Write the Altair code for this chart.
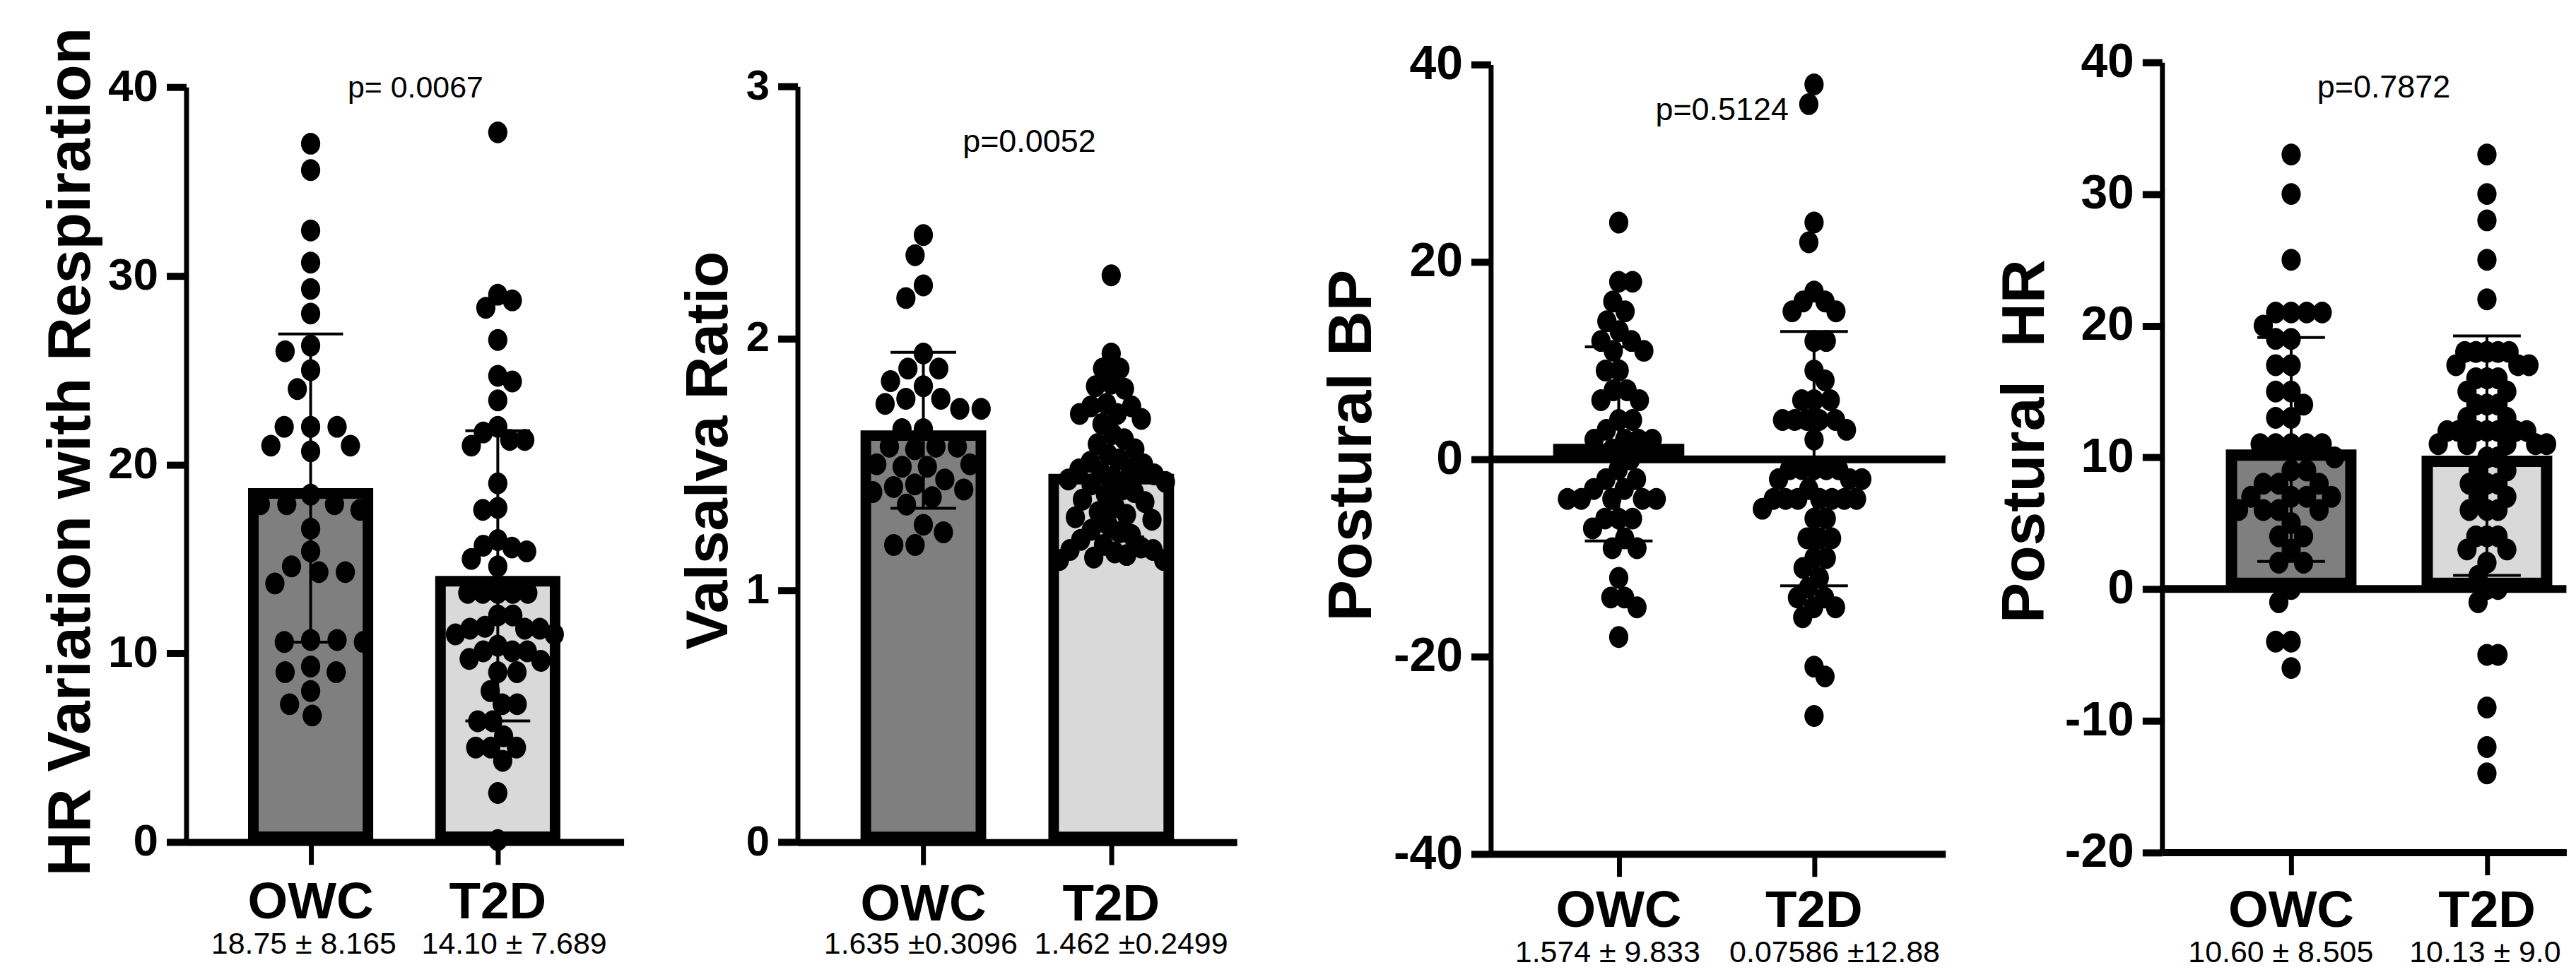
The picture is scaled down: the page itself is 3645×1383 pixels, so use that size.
import math
import altair as alt
import pandas as pd

GROUPS = ["OWC", "T2D"]

# ---------------- data ----------------
# Panel 1: HR variation with respiration
hrv_title = "HR Variation with Respiration"
hrv_owc = [37, 35.6, 32.4, 30.7, 29.3, 28.0, 26.3, 26.0, 25.0, 24.0, 22, 22, 22, 21, 21, 20.7,
           18.4, 17.9, 17.9, 17.9, 17.6, 16.6, 15.4, 14.6, 14.3, 14.3, 13.7, 10.7, 10.7, 10.6,
           10.6, 9.3, 9.0, 9.0, 8.0, 7.3, 6.7]
hrv_t2d = [37.6, 29.0, 28.7, 28.3, 26.6, 24.7, 24.4, 23.4, 22.0, 21.7, 21.3, 21.3, 21.0, 19.0,
           17.7, 17.6, 16.0, 15.7, 15.6, 15.4, 15.0, 14.6, 13.2, 13.2, 13.2, 13.2, 13.2, 12.0,
           12.0, 11.4, 11.3, 11.3, 11.3, 11.0, 11.0, 10.4, 10.1, 10.1, 10.1, 9.7, 9.6, 9.0, 9.0,
           8.0, 7.3, 7.3, 6.4, 6.4, 5.6, 5.0, 5.0, 5.0, 4.3, 2.6, 0.1]
hrv_mean = [18.75, 14.10]
hrv_sd = [8.165, 7.689]
hrv_stats = ["18.75 \u00b1 8.165", "14.10 \u00b1 7.689"]
hrv_p = "p= 0.0067"
hrv_domain = [0, 40]
hrv_ticks = [0, 10, 20, 30, 40]

# Panel 2: Valsalva ratio
val_title = "Valsalva Ratio"
val_owc = [2.41, 2.33, 2.21, 2.16, 1.94, 1.88, 1.88, 1.83, 1.81, 1.76, 1.76, 1.74, 1.72, 1.72,
           1.64, 1.64, 1.57, 1.57, 1.57, 1.56, 1.50, 1.50, 1.49, 1.49, 1.44, 1.42, 1.41, 1.40,
           1.39, 1.37, 1.34, 1.26, 1.23, 1.18, 1.18]
val_t2d = [2.25, 1.94, 1.88, 1.88, 1.82, 1.81, 1.80, 1.74, 1.73, 1.73, 1.70, 1.70, 1.68, 1.66,
           1.62, 1.60, 1.58, 1.56, 1.54, 1.52, 1.51, 1.50, 1.48, 1.48, 1.47, 1.46, 1.45, 1.44,
           1.43, 1.42, 1.40, 1.39, 1.38, 1.36, 1.35, 1.33, 1.31, 1.30, 1.29, 1.28, 1.26, 1.24,
           1.23, 1.22, 1.20, 1.18, 1.17, 1.16, 1.16, 1.15, 1.14, 1.13, 1.12, 1.12]
val_mean = [1.635, 1.462]
val_sd = [0.3096, 0.2499]
val_stats = ["1.635 \u00b10.3096", "1.462 \u00b10.2499"]
val_p = "p=0.0052"
val_domain = [0, 3]
val_ticks = [0, 1, 2, 3]

# Panel 3: Postural BP
bp_title = "Postural BP"
bp_owc = [24, 18, 18, 16, 15, 14, 13, 12, 12, 11, 11, 9, 9, 7, 7, 6, 6, 4, 4, 3, 2, 2, 2, 2, 1,
          0, -1, -2, -2, -3, -3, -4, -4, -4, -4, -4, -6, -6, -6, -7, -8, -9, -9, -12, -14, -14,
          -15, -18]
bp_t2d = [38, 36, 24, 22, 17, 16, 16, 15, 15, 12, 12, 9, 8, 6, 6, 6, 4, 4, 4, 4, 4, 3, 2, -1,
          -1, -1, -1, -1, -2, -2, -2, -3, -4, -4, -4, -4, -4, -4, -4, -5, -6, -6, -8, -8, -8,
          -10, -10, -11, -12, -13, -14, -14, -15, -15, -16, -21, -22, -26]
bp_mean = [1.574, 0.07586]
bp_sd = [9.833, 12.88]
bp_stats = ["1.574 \u00b1 9.833", "0.07586 \u00b112.88"]
bp_p = "p=0.5124"
bp_domain = [-40, 40]
bp_ticks = [-40, -20, 0, 20, 40]

# Panel 4: Postural HR
phr_title = "Postural\u00a0 HR"
phr_owc = [33, 30, 25, 21, 21, 21, 21, 20, 19, 19, 17, 17, 15, 15, 14, 13, 13, 11, 11, 11, 11,
           11, 10, 9, 9, 8, 8, 8, 7, 7, 7, 7, 6, 6, 6, 6, 5, 4, 4, 3, 2, 2, 0, -1, -4, -4, -6]
phr_t2d = [33, 30, 28, 25, 22, 18, 18, 18, 18, 18, 17, 17, 17, 16, 16, 16, 15, 15, 14, 14, 14,
           13, 13, 12, 12, 12, 12, 12, 12, 12, 11, 11, 11, 11, 11, 10, 10, 9, 9, 8, 8, 8, 7, 7,
           6, 6, 6, 4, 4, 4, 3, 3, 2, 1, 0, 0, -1, -5, -5, -9, -12, -14]
phr_mean = [10.60, 10.13]
phr_sd = [8.505, 9.093]
phr_stats = ["10.60 \u00b1 8.505", "10.13 \u00b1 9.093"]
phr_p = "p=0.7872"
phr_domain = [-20, 40]
phr_ticks = [-20, -10, 0, 10, 20, 30, 40]

# ---------------- styling ----------------
FONT = "Liberation Sans"
VIEW_H = 1124
POINT_W = 27.3
POINT_H = 31.0
E = POINT_H / POINT_W
ELLIPSE = f"M0,{-E:.4f}A1,{E:.4f},0,1,1,0,{E:.4f}A1,{E:.4f},0,1,1,0,{-E:.4f}Z"


def swarm(vals, ypx, sx, sy=POINT_H):
    """Deterministic beeswarm: returns horizontal pixel offsets."""
    order = sorted(range(len(vals)), key=lambda i: -vals[i])
    placed = []
    offs = [0.0] * len(vals)
    for n, i in enumerate(order):
        y = vals[i] * ypx
        cands = [0.0]
        for px, py in placed:
            dy = abs(py - y)
            if dy < sy:
                dx = sx * math.sqrt(1 - (dy / sy) ** 2)
                cands += [px - dx, px + dx]
        side = 1 if n % 2 else -1
        cands.sort(key=lambda c: (round(abs(c), 6), side * c))
        chosen = None
        for c in cands:
            if all(((c - px) / sx) ** 2 + ((y - py) / sy) ** 2 >= 1 - 1e-9 for px, py in placed):
                chosen = c
                break
        if chosen is None:
            chosen = max(abs(c) for c in cands) + sx
        offs[i] = chosen
        placed.append((chosen, y))
    return offs


def build(title, owc, t2d, mean, sd, stats, ptext, ydom, yticks, st, anchor=False):
    step, c0, pw = st["step"], st["c0"], st["plot_w"]
    r0, r1 = st["yrange"]
    ypx = (r0 - r1) / (ydom[1] - ydom[0])
    xs = alt.Scale(domain=[-c0 / step, (pw - c0) / step], range=[0, pw], nice=False, zero=False)
    ys = alt.Scale(domain=ydom, range=[r0, r1], nice=False, zero=False)
    xaxis = alt.Axis(values=[0, 1], labels=False, title=None, grid=False, domainColor="black",
                     domainWidth=10, tickColor="black", tickWidth=7, tickSize=32,
                     offset=st["xoff"])
    yaxis = alt.Axis(values=yticks, title=title, grid=False, domainColor="black", domainWidth=7,
                     tickColor="black", tickWidth=10, tickSize=28, labelPadding=12,
                     labelFont=FONT, labelFontWeight="bold", labelFontSize=st["lfs"],
                     labelColor="black", labelExpr="'' + datum.value", labelOverlap=False,
                     titleFont=FONT, titleFontWeight="bold", titleFontSize=st["tfs"],
                     titleColor="black", titleAngle=270, titleAlign="center",
                     titleBaseline="alphabetic", titleX=st["tx"], titleY=st["ty"])

    def X():
        return alt.X("x:Q", scale=xs, axis=xaxis)

    def Y():
        return alt.Y("y:Q", scale=ys, axis=yaxis)

    rows = []
    for g, vals in enumerate([owc, t2d]):
        offs = swarm(vals, ypx, st["swarm"][g])
        for v, o in zip(vals, offs):
            rows.append({"x": g + o / step, "y": v})
    pts = pd.DataFrame(rows)

    so = st["sw"] / 2
    half = (st["bar_outer"] / 2 - so) / step
    bars = pd.DataFrame({"x": [g - half for g in (0, 1)], "x2": [g + half for g in (0, 1)],
                         "y": mean, "y2": [0, 0], "fill": st["fills"]})
    err = pd.DataFrame({"x": [0, 1], "y": [mean[g] - sd[g] for g in (0, 1)],
                        "y2": [mean[g] + sd[g] for g in (0, 1)]})
    ch = st["cap"] / step
    caps = pd.DataFrame({"x": [g - ch for g in (0, 0, 1, 1)], "x2": [g + ch for g in (0, 0, 1, 1)],
                         "y": [mean[0] - sd[0], mean[0] + sd[0], mean[1] - sd[1], mean[1] + sd[1]]})

    layers = []
    rect_kw = dict(yOffset=so, y2Offset=-so) if so else {}
    layers.append(alt.Chart(bars).mark_rect(strokeWidth=0, **rect_kw).encode(
        x=X(), x2="x2:Q", y=Y(), y2="y2:Q", fill=alt.Fill("fill:N", scale=None)))
    if st["zero"]:
        layers.append(alt.Chart(pd.DataFrame({"y": [0]})).mark_rule(
            color="black", strokeWidth=11).encode(x=alt.value(0), x2=alt.value(pw), y=Y()))
    layers.append(alt.Chart(pts).mark_point(shape=ELLIPSE, size=POINT_W ** 2, filled=True,
                                            color="black", opacity=1, strokeWidth=0).encode(
        x=X(), y=Y()))
    if st["sw"]:
        layers.append(alt.Chart(bars).mark_rect(fill="white", fillOpacity=0, stroke="black",
                                                strokeWidth=st["sw"], **rect_kw).encode(
            x=X(), x2="x2:Q", y=Y(), y2="y2:Q"))
    layers.append(alt.Chart(err).mark_rule(color="black", strokeWidth=4).encode(
        x=X(), y=Y(), y2="y2:Q"))
    layers.append(alt.Chart(caps).mark_rule(color="black", strokeWidth=4).encode(
        x=X(), x2="x2:Q", y=Y()))

    ptxt = pd.DataFrame({"x": [0.5 + st["pdx"] / step], "text": [ptext]})
    layers.append(alt.Chart(ptxt).mark_text(font=FONT, fontSize=st["pfs"], align="center",
                                            baseline="alphabetic", color="black").encode(
        x=X(), y=alt.value(st["py"]), text="text:N"))
    cat = pd.DataFrame({"x": [0, 1], "text": GROUPS})
    layers.append(alt.Chart(cat).mark_text(font=FONT, fontSize=73, fontWeight="bold",
                                           align="center", baseline="alphabetic",
                                           color="black").encode(
        x=X(), y=alt.value(st["cy"]), text="text:N"))
    for g in (0, 1):
        sdf = pd.DataFrame({"x": [g + st["sdx"][g] / step], "text": [stats[g]]})
        kw = dict(limit=st["limit"], ellipsis="\u200b") if (g == 1 and "limit" in st) else {}
        layers.append(alt.Chart(sdf).mark_text(font=FONT, fontSize=43, align="left",
                                               baseline="alphabetic", color="black",
                                               **kw).encode(
            x=X(), y=alt.value(st["sy"]), text="text:N"))
    if anchor:
        layers.append(alt.Chart(pd.DataFrame({"a": [0]})).mark_rule(
            color="black", strokeOpacity=0).encode(
            x=alt.value(-255.5), x2=alt.value(-254.5), y=alt.value(-78), y2=alt.value(-77)))
    return alt.layer(*layers).properties(width=st["view_w"], height=VIEW_H)


S1 = dict(step=265.4, c0=176.5, plot_w=620.5, view_w=866.1, yrange=[1107, 36], xoff=-17,
          lfs=64, tfs=86, tx=-137.5, ty=553, bar_outer=177.5, sw=15,
          fills=["#7f7f7f", "#d9d9d9"], cap=46, swarm=[37.5, 21.3], pfs=43, pdx=16, py=51,
          cy=1215, sy=1265, sdx=[-141, -108], zero=False)
S2 = dict(step=266.4, c0=178.4, plot_w=623, view_w=982.1, yrange=[1107.3, 35.1], xoff=-16.7,
          lfs=60, tfs=84, tx=-100.6, ty=551, bar_outer=178.2, sw=15,
          fills=["#7f7f7f", "#d9d9d9"], cap=46.5, swarm=[30.3, 17.0], pfs=45, pdx=17, py=128,
          cy=1218, sy=1265, sdx=[-141, -109], zero=False)
S3 = dict(step=277.0, c0=181.5, plot_w=644.8, view_w=951.9, yrange=[1124.2, 4.2], xoff=0,
          lfs=68, tfs=88, tx=-170.7, ty=544, bar_outer=186, sw=0,
          fills=["black", "black"], cap=48, swarm=[19.6, 17.4], pfs=45, pdx=8, py=83,
          cy=1227, sy=1277, sdx=[-147, -120], zero=True)
S4 = dict(step=277.6, c0=183.1, plot_w=573.4, view_w=573.4, yrange=[1121.7, 0.9], xoff=-2.3,
          lfs=68, tfs=86, tx=-168.6, ty=538, bar_outer=185.3, sw=16,
          fills=["#7f7f7f", "#d9d9d9"], cap=48, swarm=[22.0, 15.7], pfs=45, pdx=-7.5, py=51,
          cy=1227, sy=1277, sdx=[-146, -110], zero=True, limit=222)

p1 = build(hrv_title, hrv_owc, hrv_t2d, hrv_mean, hrv_sd, hrv_stats, hrv_p, hrv_domain,
           hrv_ticks, S1, anchor=True)
p2 = build(val_title, val_owc, val_t2d, val_mean, val_sd, val_stats, val_p, val_domain,
           val_ticks, S2)
p3 = build(bp_title, bp_owc, bp_t2d, bp_mean, bp_sd, bp_stats, bp_p, bp_domain, bp_ticks, S3)
p4 = build(phr_title, phr_owc, phr_t2d, phr_mean, phr_sd, phr_stats, phr_p, phr_domain,
           phr_ticks, S4)

chart = alt.hconcat(p1, p2, p3, p4, spacing=0, bounds="flush").properties(
    padding=0, background="white").configure_view(strokeWidth=0)

chart.save("out.html", embed_options={"renderer": "svg", "actions": False})
